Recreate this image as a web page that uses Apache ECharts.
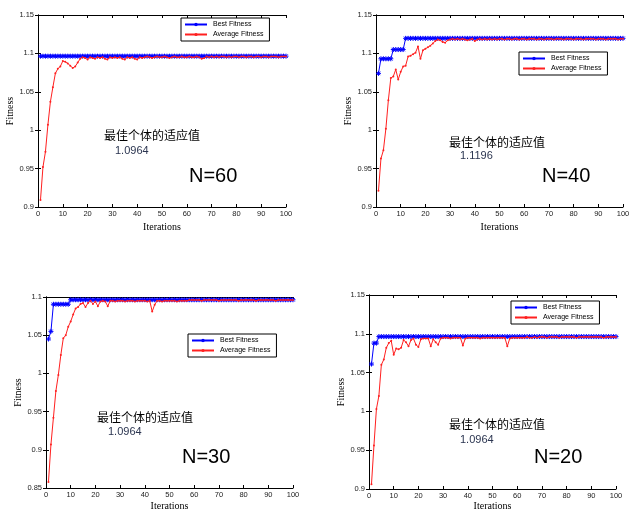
<!DOCTYPE html>
<html>
<head>
<meta charset="utf-8">
<title>Fitness</title>
<script src="https://cdn.jsdelivr.net/npm/echarts@6/dist/echarts.min.js"></script>
<style>
html, body { margin: 0; padding: 0; background: #fff; }
#chart { width: 633px; height: 512px; }
</style>
</head>
<body>
<div id="chart"></div>
<script>
// values (iteration 1..100)
const bestN60 = [
    1.0964, 1.0964, 1.0964, 1.0964, 1.0964, 1.0964, 1.0964, 1.0964, 1.0964, 1.0964,
    1.0964, 1.0964, 1.0964, 1.0964, 1.0964, 1.0964, 1.0964, 1.0964, 1.0964, 1.0964,
    1.0964, 1.0964, 1.0964, 1.0964, 1.0964, 1.0964, 1.0964, 1.0964, 1.0964, 1.0964,
    1.0964, 1.0964, 1.0964, 1.0964, 1.0964, 1.0964, 1.0964, 1.0964, 1.0964, 1.0964,
    1.0964, 1.0964, 1.0964, 1.0964, 1.0964, 1.0964, 1.0964, 1.0964, 1.0964, 1.0964,
    1.0964, 1.0964, 1.0964, 1.0964, 1.0964, 1.0964, 1.0964, 1.0964, 1.0964, 1.0964,
    1.0964, 1.0964, 1.0964, 1.0964, 1.0964, 1.0964, 1.0964, 1.0964, 1.0964, 1.0964,
    1.0964, 1.0964, 1.0964, 1.0964, 1.0964, 1.0964, 1.0964, 1.0964, 1.0964, 1.0964,
    1.0964, 1.0964, 1.0964, 1.0964, 1.0964, 1.0964, 1.0964, 1.0964, 1.0964, 1.0964,
    1.0964, 1.0964, 1.0964, 1.0964, 1.0964, 1.0964, 1.0964, 1.0964, 1.0964, 1.0964
]
const avgN60 = [
    0.909, 0.952, 0.972, 1.007, 1.037, 1.056, 1.074, 1.080, 1.083, 1.090,
    1.089, 1.087, 1.084, 1.081, 1.083, 1.088, 1.093, 1.095, 1.094, 1.092,
    1.095, 1.094, 1.093, 1.095, 1.094, 1.095, 1.093, 1.092, 1.095, 1.094,
    1.095, 1.094, 1.095, 1.093, 1.092, 1.095, 1.094, 1.095, 1.093, 1.092,
    1.095, 1.094, 1.095, 1.096, 1.095, 1.094, 1.095, 1.096, 1.095, 1.095,
    1.096, 1.095, 1.094, 1.095, 1.096, 1.095, 1.095, 1.096, 1.095, 1.095,
    1.096, 1.095, 1.095, 1.096, 1.095, 1.093, 1.094, 1.096, 1.095, 1.096,
    1.095, 1.096, 1.095, 1.096, 1.096, 1.095, 1.096, 1.095, 1.096, 1.096,
    1.095, 1.096, 1.096, 1.095, 1.096, 1.096, 1.095, 1.096, 1.096, 1.095,
    1.096, 1.096, 1.095, 1.096, 1.096, 1.096, 1.095, 1.096, 1.096, 1.096
]
const bestN40 = [
    1.074, 1.093, 1.093, 1.093, 1.093, 1.093, 1.105, 1.105, 1.105, 1.105,
    1.105, 1.1196, 1.1196, 1.1196, 1.1196, 1.1196, 1.1196, 1.1196, 1.1196, 1.1196,
    1.1196, 1.1196, 1.1196, 1.1196, 1.1196, 1.1196, 1.1196, 1.1196, 1.1196, 1.1196,
    1.1196, 1.1196, 1.1196, 1.1196, 1.1196, 1.1196, 1.1196, 1.1196, 1.1196, 1.1196,
    1.1196, 1.1196, 1.1196, 1.1196, 1.1196, 1.1196, 1.1196, 1.1196, 1.1196, 1.1196,
    1.1196, 1.1196, 1.1196, 1.1196, 1.1196, 1.1196, 1.1196, 1.1196, 1.1196, 1.1196,
    1.1196, 1.1196, 1.1196, 1.1196, 1.1196, 1.1196, 1.1196, 1.1196, 1.1196, 1.1196,
    1.1196, 1.1196, 1.1196, 1.1196, 1.1196, 1.1196, 1.1196, 1.1196, 1.1196, 1.1196,
    1.1196, 1.1196, 1.1196, 1.1196, 1.1196, 1.1196, 1.1196, 1.1196, 1.1196, 1.1196,
    1.1196, 1.1196, 1.1196, 1.1196, 1.1196, 1.1196, 1.1196, 1.1196, 1.1196, 1.1196
]
const avgN40 = [
    0.921, 0.963, 0.974, 1.002, 1.039, 1.068, 1.070, 1.079, 1.066, 1.076,
    1.083, 1.084, 1.096, 1.097, 1.099, 1.101, 1.109, 1.093, 1.104, 1.106,
    1.108, 1.110, 1.113, 1.116, 1.118, 1.117, 1.115, 1.114, 1.117, 1.118,
    1.119, 1.118, 1.119, 1.118, 1.119, 1.118, 1.117, 1.118, 1.119, 1.116,
    1.118, 1.119, 1.118, 1.119, 1.118, 1.119, 1.118, 1.119, 1.118, 1.119,
    1.119, 1.118, 1.119, 1.119, 1.118, 1.119, 1.119, 1.118, 1.119, 1.119,
    1.118, 1.119, 1.119, 1.119, 1.118, 1.119, 1.119, 1.118, 1.119, 1.119,
    1.119, 1.118, 1.119, 1.119, 1.119, 1.118, 1.119, 1.119, 1.119, 1.118,
    1.119, 1.119, 1.119, 1.118, 1.119, 1.119, 1.119, 1.119, 1.118, 1.119,
    1.119, 1.119, 1.118, 1.119, 1.119, 1.119, 1.119, 1.118, 1.119, 1.119
]
const bestN30 = [
    1.045, 1.055, 1.0905, 1.0905, 1.0905, 1.0905, 1.0905, 1.0905, 1.0905, 1.0964,
    1.0964, 1.0964, 1.0964, 1.0964, 1.0964, 1.0964, 1.0964, 1.0964, 1.0964, 1.0964,
    1.0964, 1.0964, 1.0964, 1.0964, 1.0964, 1.0964, 1.0964, 1.0964, 1.0964, 1.0964,
    1.0964, 1.0964, 1.0964, 1.0964, 1.0964, 1.0964, 1.0964, 1.0964, 1.0964, 1.0964,
    1.0964, 1.0964, 1.0964, 1.0964, 1.0964, 1.0964, 1.0964, 1.0964, 1.0964, 1.0964,
    1.0964, 1.0964, 1.0964, 1.0964, 1.0964, 1.0964, 1.0964, 1.0964, 1.0964, 1.0964,
    1.0964, 1.0964, 1.0964, 1.0964, 1.0964, 1.0964, 1.0964, 1.0964, 1.0964, 1.0964,
    1.0964, 1.0964, 1.0964, 1.0964, 1.0964, 1.0964, 1.0964, 1.0964, 1.0964, 1.0964,
    1.0964, 1.0964, 1.0964, 1.0964, 1.0964, 1.0964, 1.0964, 1.0964, 1.0964, 1.0964,
    1.0964, 1.0964, 1.0964, 1.0964, 1.0964, 1.0964, 1.0964, 1.0964, 1.0964, 1.0964
]
const avgN30 = [
    0.858, 0.907, 0.942, 0.977, 0.998, 1.024, 1.046, 1.050, 1.061, 1.068,
    1.077, 1.085, 1.087, 1.091, 1.092, 1.087, 1.092, 1.095, 1.091, 1.094,
    1.088, 1.094, 1.095, 1.094, 1.088, 1.095, 1.095, 1.094, 1.095, 1.095,
    1.095, 1.094, 1.095, 1.095, 1.095, 1.094, 1.095, 1.095, 1.095, 1.095,
    1.094, 1.095, 1.081, 1.090, 1.095, 1.095, 1.094, 1.095, 1.095, 1.095,
    1.095, 1.095, 1.094, 1.095, 1.095, 1.095, 1.095, 1.096, 1.096, 1.096,
    1.096, 1.096, 1.095, 1.096, 1.096, 1.096, 1.096, 1.096, 1.096, 1.095,
    1.096, 1.096, 1.096, 1.096, 1.096, 1.096, 1.096, 1.095, 1.096, 1.096,
    1.096, 1.096, 1.096, 1.096, 1.095, 1.096, 1.096, 1.096, 1.096, 1.096,
    1.096, 1.096, 1.095, 1.096, 1.096, 1.096, 1.096, 1.096, 1.096, 1.096
]
const bestN20 = [
    1.061, 1.088, 1.088, 1.0964, 1.0964, 1.0964, 1.0964, 1.0964, 1.0964, 1.0964,
    1.0964, 1.0964, 1.0964, 1.0964, 1.0964, 1.0964, 1.0964, 1.0964, 1.0964, 1.0964,
    1.0964, 1.0964, 1.0964, 1.0964, 1.0964, 1.0964, 1.0964, 1.0964, 1.0964, 1.0964,
    1.0964, 1.0964, 1.0964, 1.0964, 1.0964, 1.0964, 1.0964, 1.0964, 1.0964, 1.0964,
    1.0964, 1.0964, 1.0964, 1.0964, 1.0964, 1.0964, 1.0964, 1.0964, 1.0964, 1.0964,
    1.0964, 1.0964, 1.0964, 1.0964, 1.0964, 1.0964, 1.0964, 1.0964, 1.0964, 1.0964,
    1.0964, 1.0964, 1.0964, 1.0964, 1.0964, 1.0964, 1.0964, 1.0964, 1.0964, 1.0964,
    1.0964, 1.0964, 1.0964, 1.0964, 1.0964, 1.0964, 1.0964, 1.0964, 1.0964, 1.0964,
    1.0964, 1.0964, 1.0964, 1.0964, 1.0964, 1.0964, 1.0964, 1.0964, 1.0964, 1.0964,
    1.0964, 1.0964, 1.0964, 1.0964, 1.0964, 1.0964, 1.0964, 1.0964, 1.0964, 1.0964
]
const avgN20 = [
    0.906, 0.956, 1.003, 1.020, 1.060, 1.067, 1.082, 1.088, 1.091, 1.073,
    1.081, 1.080, 1.082, 1.092, 1.089, 1.084, 1.092, 1.094, 1.086, 1.083,
    1.093, 1.094, 1.094, 1.094, 1.084, 1.093, 1.089, 1.086, 1.094, 1.095,
    1.095, 1.095, 1.094, 1.095, 1.095, 1.095, 1.095, 1.085, 1.094, 1.095,
    1.095, 1.095, 1.095, 1.095, 1.094, 1.095, 1.095, 1.095, 1.095, 1.095,
    1.095, 1.095, 1.095, 1.095, 1.095, 1.084, 1.094, 1.095, 1.095, 1.095,
    1.095, 1.095, 1.095, 1.096, 1.095, 1.095, 1.096, 1.095, 1.096, 1.096,
    1.096, 1.095, 1.096, 1.096, 1.096, 1.096, 1.095, 1.096, 1.096, 1.096,
    1.096, 1.096, 1.096, 1.095, 1.096, 1.096, 1.096, 1.096, 1.096, 1.096,
    1.096, 1.096, 1.096, 1.096, 1.095, 1.096, 1.096, 1.096, 1.096, 1.096
]

const bestSeries = [bestN60, bestN40, bestN30, bestN20]
const avgSeries = [avgN60, avgN40, avgN30, avgN20]
const panelLabels = ['N=60', 'N=40', 'N=30', 'N=20']
const bestLabels = ['1.0964', '1.1196', '1.0964', '1.0964']
const yMins = [0.9, 0.9, 0.85, 0.9]
const yMaxs = [1.15, 1.15, 1.1, 1.15]
const legendNames = ['Best Fitness', 'Average Fitness']
const noteTitle = '最佳个体的适应值'

// layout of the four panels
const grids = [
    { left: 38, top: 15, width: 248, height: 192 },
    { left: 376, top: 15, width: 247, height: 192 },
    { left: 46, top: 297, width: 247, height: 192 },
    { left: 369, top: 295, width: 247, height: 195 }
]
const legendPos = [[181, 18], [519, 52], [188, 334], [511, 301]]
const notePos = [
    { title: [104, 135], value: [115, 151], tag: [189, 176] },
    { title: [449, 142], value: [460, 156], tag: [542, 176] },
    { title: [97, 417], value: [108, 432], tag: [182, 457] },
    { title: [449, 424], value: [460, 440], tag: [534, 457] }
]
const yNameGap = [17, 17, 19, 18]
const xNameGap = [15, 15, 13, 12]

const star = 'path://M4,0L4,8M0,4L8,4M1.2,1.2L6.8,6.8M6.8,1.2L1.2,6.8'
const tickFont = { fontSize: 7.5, color: '#222', fontFamily: 'Liberation Sans, Arial' }
const axisLine = { show: true, lineStyle: { color: '#000', width: 1 } }

const chart = echarts.init(document.getElementById('chart'))

const xAxis = []
const yAxis = []
const series = []
const legend = []
const graphic = []

grids.forEach((g, i) => {
    xAxis.push({
        type: 'value', gridIndex: i, min: 0, max: 100, interval: 10,
        name: 'Iterations', nameLocation: 'middle', nameGap: xNameGap[i],
        nameTextStyle: { fontFamily: 'Liberation Serif, Times New Roman', fontSize: 10, color: '#000' },
        axisLine: axisLine,
        axisTick: { inside: true, length: 3, lineStyle: { color: '#000' } },
        axisLabel: Object.assign({ margin: 3 }, tickFont),
        splitLine: { show: false }
    })
    yAxis.push({
        type: 'value', gridIndex: i, min: yMins[i], max: yMaxs[i], interval: 0.05,
        name: 'Fitness', nameLocation: 'middle', nameGap: yNameGap[i],
        nameTextStyle: { fontFamily: 'Liberation Serif, Times New Roman', fontSize: 10, color: '#000' },
        axisLine: axisLine,
        axisTick: { inside: true, length: 3, lineStyle: { color: '#000' } },
        axisLabel: Object.assign({ margin: 4, formatter: v => String(parseFloat(v.toFixed(2))) }, tickFont),
        splitLine: { show: false }
    })
    series.push({
        name: legendNames[0], type: 'line', xAxisIndex: i, yAxisIndex: i,
        data: bestSeries[i].map((v, k) => [k + 1, v]),
        symbol: star, symbolSize: 5,
        lineStyle: { color: '#0000ff', width: 1 },
        itemStyle: { color: '#0000ff', borderColor: '#0000ff', borderWidth: 1 },
        z: 3
    })
    series.push({
        name: legendNames[1], type: 'line', xAxisIndex: i, yAxisIndex: i,
        data: avgSeries[i].map((v, k) => [k + 1, v]),
        symbol: 'circle', symbolSize: 2,
        lineStyle: { color: '#ff2020', width: 1 },
        itemStyle: { color: '#ff2020' },
        z: 4
    })
    legend.push({
        orient: 'vertical', left: legendPos[i][0], top: legendPos[i][1],
        data: legendNames, itemWidth: 22, itemHeight: 4, itemGap: 3,
        padding: [3, 6, 3, 3], borderColor: '#000', borderWidth: 1, backgroundColor: '#fff',
        textStyle: { fontSize: 7, color: '#000', fontFamily: 'Liberation Sans, Arial', padding: [0, 0, 0, 1] },
        selectedMode: false
    })
    const p = notePos[i]
    graphic.push({
        type: 'text', x: p.title[0], y: p.title[1],
        style: { text: noteTitle, font: '12px "Noto Sans CJK SC"', fill: '#000', verticalAlign: 'middle' }
    })
    graphic.push({
        type: 'text', x: p.value[0], y: p.value[1],
        style: { text: bestLabels[i], font: '11px "Liberation Sans", Arial', fill: '#2b3550', verticalAlign: 'middle' }
    })
    graphic.push({
        type: 'text', x: p.tag[0], y: p.tag[1],
        style: { text: panelLabels[i], font: '20px "Liberation Sans", Arial', fill: '#000', verticalAlign: 'middle' }
    })
})

// box edges (top / right) with inside ticks like matlab
grids.forEach((g, i) => {
    xAxis.push({
        type: 'value', gridIndex: i, position: 'top', min: 0, max: 100, interval: 10,
        axisLine: axisLine,
        axisTick: { inside: true, length: 3, lineStyle: { color: '#000' } },
        axisLabel: { show: false }, splitLine: { show: false }
    })
    yAxis.push({
        type: 'value', gridIndex: i, position: 'right', min: yMins[i], max: yMaxs[i], interval: 0.05,
        axisLine: axisLine,
        axisTick: { inside: true, length: 3, lineStyle: { color: '#000' } },
        axisLabel: { show: false }, splitLine: { show: false }
    })
})

chart.setOption({
    animation: false,
    backgroundColor: '#fff',
    grid: grids,
    xAxis: xAxis,
    yAxis: yAxis,
    legend: legend,
    series: series,
    graphic: graphic
})
</script>
</body>
</html>
